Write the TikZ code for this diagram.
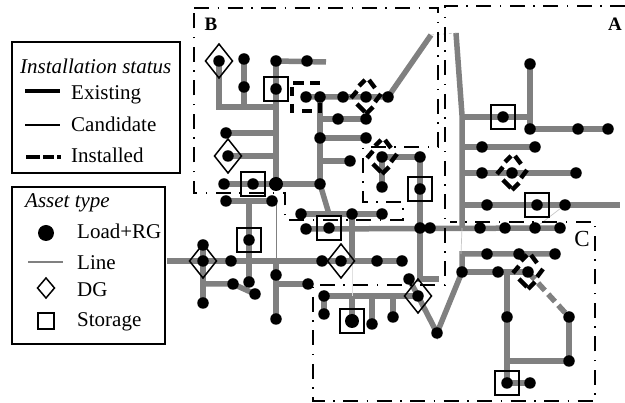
\documentclass[tikz,border=0pt]{standalone}
\usepackage{fontspec}
\setmainfont{Liberation Serif}
\usetikzlibrary{shapes.geometric,backgrounds}
\definecolor{feedgray}{gray}{0.5}
\tikzset{
  x=1pt,y=-1pt,
  busdot/.style={circle,fill=black,draw=none,minimum size=11.5pt,inner sep=0pt,outer sep=0pt},
  bigdot/.style={busdot,minimum size=14pt},
  feeder/.style={draw=feedgray,line width=5.5pt},
  thinfeeder/.style={draw=feedgray,line width=0.8pt},
  faintfeeder/.style={draw=black!22,line width=0.7pt},
  newfeeder/.style={draw=feedgray,line width=5.5pt,dash pattern=on 10pt off 5pt},
  storebox/.style={rectangle,draw=black,line width=1.5pt,minimum size=24pt,inner sep=0pt,outer sep=0pt},
  dgmark/.style={diamond,draw=black,line width=1.5pt,minimum width=27pt,minimum height=34pt,inner sep=0pt,outer sep=0pt},
  instdash/.style={draw=black,line width=4.4pt},
  region/.style={draw=black,line width=1.3pt,dash pattern=on 15pt off 8.5pt on 1.5pt off 8.5pt},
  legendbox/.style={rectangle,draw=black,line width=1.7pt,inner sep=0pt,outer sep=0pt},
  legtext/.style={anchor=base west,inner sep=0pt,font=\fontsize{21}{21}\selectfont},
  legtitle/.style={anchor=base west,inner sep=0pt,font=\fontsize{21}{21}\selectfont\itshape},
  zonelabel/.style={inner sep=0pt,font=\fontsize{19}{19}\selectfont\bfseries},
}
\newcommand{\instdg}[1]{%
  \begin{scope}[shift={(#1)}]
    \draw[instdash] (-7,-11)--(-1,-17);
    \draw[instdash] (3,-17)--(9,-9);
    \draw[instdash] (-15,1)--(-9,-6);
    \draw[instdash] (9,5)--(15,-3);
    \draw[instdash] (0,17)--(7,10);
    \draw[instdash] (-9,7)--(-1,15);
  \end{scope}}
\begin{document}
\begin{tikzpicture}
\useasboundingbox (0,0) rectangle (625,403);
% buses
\foreach \n/\px/\py in {
  b1/219/61,b2/244/59,b3/244/87,b4/276/61,b5/307/61,b6/276/89,b7/226/133,b8/228/156,
  b9/224/184,b10/253/184,b12/320/184,b13/226/201,b14/272/201,b15/249/240,
  b16/306/97,b17/320/97,b18/343/97,b19/366/97,b20/388/97,b21/338/119,b22/366/119,
  b23/320/138,b24/366/138,b25/350/161,
  c1/203/261,c2/203/245,c3/231/261,c4/322/261,c5/341/261,c6/377/261,c7/402/261,
  c8/203/303,c9/233/284,c10/255/294,c11/249/282,c12/276/275,c13/276/319,c14/308/284,
  c15/301/214,c16/352/214,c17/382/214,c18/306/229,c19/329/228,
  d1/382/157,d2/420/157,d3/382/187,d4/420/189,d5/420/228,d6/430/228,d7/480/228,d8/505/228,d9/535/228,d10/560/228,
  e1/409/279,e2/418/296,e3/324/296,e4/324/314,e6/372/324,e7/393/317,e8/437/333,e9/462/272,
  f1/487/254,f2/519/254,f3/555/254,f4/498/272,f5/528/272,f6/507/317,f7/569/361,f8/569/317,f9/507/383,f10/530/383,
  a1/503/117,a2/530/64,a3/530/129,a4/578/129,a5/608/129,a6/482/147,a7/535/147,a8/482/173,a9/512/173,a10/576/173,
  a11/487/205,a12/537/205,a13/565/205}
  {\node[busdot] (\n) at (\px,\py) {};}
\node[bigdot] (b11) at (276,184) {};
\node[bigdot] (e5) at (352,321) {};
% junctions and free ends
\coordinate (j1) at (276,107);
\coordinate (j2) at (244,107);
\coordinate (j3) at (219,107);
\coordinate (j4) at (326,62);
\coordinate (j5) at (276,133);
\coordinate (j6) at (276,156);
\coordinate (j7) at (320,119);
\coordinate (j8) at (320,161);
\coordinate (j10) at (249,201);
\coordinate (j12) at (167,261);
\coordinate (j13) at (203,284);
\coordinate (j14) at (276,261);
\coordinate (j15) at (276,284);
\coordinate (j16) at (276,201);
\coordinate (j17) at (329,214);
\coordinate (j18) at (352,228);
\coordinate (j19) at (352,261);
\coordinate (j20) at (431,35);
\coordinate (j21) at (456,33);
\coordinate (j22) at (462,115);
\coordinate (j23) at (462,228);
\coordinate (j24) at (461,254);
\coordinate (j25) at (420,279);
\coordinate (j26) at (439,279);
\coordinate (j27) at (352,296);
\coordinate (j28) at (372,296);
\coordinate (j29) at (393,296);
\coordinate (j30) at (462,254);
\coordinate (j31) at (507,272);
\coordinate (j32) at (507,361);
\coordinate (j33) at (462,117);
\coordinate (j34) at (530,117);
\coordinate (j35) at (462,147);
\coordinate (j36) at (462,173);
\coordinate (j37) at (462,205);
\coordinate (j38) at (620,205);
\coordinate (j39) at (352,265);
% marks
\foreach \n/\t in {s1/b6,s2/b10,s3/b15,s4/c19,s5/d4,s6/e5,s7/f9,s8/a1,s9/a12}
  {\node[storebox] (\n) at (\t.center) {};}
\foreach \n/\t in {g1/b1,g2/b8,g3/c1,g4/c5,g5/e2}
  {\node[dgmark] (\n) at (\t.center) {};}
\instdg{b19.center}
\instdg{d1.center}
\instdg{a9.center}
\instdg{f5.center}
% installed storage
\draw[instdash] (293,83)--(304,83) (310,83)--(320,83);
\draw[instdash] (292,87)--(292,96) (292,104)--(292,113);
\draw[instdash] (302,111)--(312,111);
\draw[instdash] (320,103)--(320,113);
% labels of zones
\node[zonelabel] (zb) at (211,24) {B};
\node[zonelabel] (za) at (615,24) {A};
\node[inner sep=0pt,font=\fontsize{23}{23}\selectfont] (zc) at (582,239) {C};
% zones
\draw[region] (194,8)--(438,8)--(438,147)--(363,147)--(363,202)--(403,202)--(403,220)--(285,220)--(285,193)--(194,193)--cycle;
\draw[region] (625,6)--(445,6)--(445,285)--(313,285)--(313,401)--(595,401)--(595,222)--(450,222);
% legend 1
\node[legendbox,minimum width=168pt,minimum height=131pt] (leg1) at (96,107.5) {};
\node[legtitle] (t1) at (20,74) {Installation status};
\node[legtext] (t2) at (71,100) {Existing};
\node[legtext] (t3) at (71,132) {Candidate};
\node[legtext] (t4) at (71,163) {Installed};
\coordinate (l1a) at (25,91); \coordinate (l1b) at (60,91);
\coordinate (l2a) at (25,125); \coordinate (l2b) at (60,125);
\coordinate (l3a) at (26,157); \coordinate (l3b) at (61,157);
\draw[draw=black,line width=4.5pt] (l1a)--(l1b);
\draw[draw=black,line width=1.8pt] (l2a)--(l2b);
\draw[draw=black,line width=4pt,dash pattern=on 14pt off 3pt on 11pt off 3pt] (l3a)--(l3b);
% legend 2
\node[legendbox,minimum width=153pt,minimum height=157pt] (leg2) at (88.5,265.5) {};
\node[legtitle] (t5) at (25,208) {Asset type};
\node[legtext] (t6) at (77,239) {Load+RG};
\node[legtext] (t7) at (77,270) {Line};
\node[legtext] (t8) at (77,297) {DG};
\node[legtext] (t9) at (77,327) {Storage};
\node[busdot,minimum size=16pt] (k1) at (46,233) {};
\coordinate (k2a) at (28,262); \coordinate (k2b) at (63,262);
\draw[draw=feedgray,line width=1.5pt] (k2a)--(k2b);
\node[dgmark,minimum width=17pt,minimum height=20pt] (k3) at (46,288) {};
\node[storebox,minimum size=16pt] (k4) at (46,321) {};
% feeders under everything
\begin{scope}[on background layer]
\draw[feeder] (b1.center)--(j3)--(j1);
\draw[feeder] (b2.center)--(j2);
\draw[feeder] (b4.center)--(j4);
\draw[feeder] (b4.center)--(b11.center);
\draw[feeder] (b7.center)--(j5);
\draw[feeder] (b8.center)--(j6);
\draw[feeder] (b9.center)--(b12.center);
\draw[feeder] (b16.center)--(b20.center)--(j20);
\draw[feeder] (b17.center)--(b12.center);
\draw[feeder] (b12.center)--(j17);
\draw[feeder] (j7)--(b22.center);
\draw[feeder] (b23.center)--(b24.center);
\draw[feeder] (j8)--(b25.center);
\draw[feeder] (b13.center)--(b14.center);
\draw[feeder] (j10)--(c11.center);
\draw[feeder] (j12)--(c7.center);
\draw[feeder] (c2.center)--(c8.center);
\draw[feeder] (j13)--(c9.center)--(c10.center);
\draw[feeder] (j14)--(c13.center);
\draw[feeder] (j15)--(c14.center);
\draw[feeder] (c15.center)--(c17.center);
\draw[feeder] (c16.center)--(j19);
\draw[feeder] (c18.center)--(d10.center);
\draw[feeder] (j18)--(j19);
\draw[feeder] (d1.center)--(d2.center)--(j25)--(j26);
\draw[feeder] (d1.center)--(d3.center);
\draw[feeder] (e3.center)--(e2.center);
\draw[feeder] (e3.center)--(e4.center);
\draw[feeder] (j27)--(e5.center);
\draw[feeder] (j28)--(e6.center);
\draw[feeder] (j29)--(e7.center);
\draw[feeder] (e1.center)--(e2.center)--(e8.center)--(e9.center)--(j30)--(f3.center);
\draw[feeder] (e9.center)--(f5.center);
\draw[feeder] (j31)--(f9.center)--(f10.center);
\draw[feeder] (j32)--(f7.center)--(f8.center);
\draw[newfeeder] (f5.center)--(f8.center);
\draw[feeder] (j21)--(j22)--(j23);
\draw[feeder] (j33)--(j34);
\draw[feeder] (a2.center)--(a3.center)--(a5.center);
\draw[feeder] (j35)--(a7.center);
\draw[feeder] (j36)--(a10.center);
\draw[feeder] (j37)--(j38);
\draw[thinfeeder] (j16)--(j14);
\draw[faintfeeder] (j23)--(j24);
\draw[faintfeeder] (a13.center)--(d9.center);
\draw[faintfeeder,dashed] (j20)--(j21);
\draw[draw=black!12,line width=0.7pt] (j39)--(j27);
\end{scope}
\end{tikzpicture}
\end{document}
